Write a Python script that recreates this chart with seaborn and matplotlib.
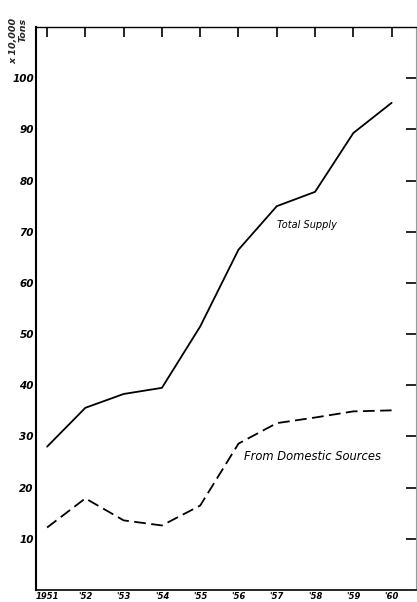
import pandas as pd
import numpy as np
import matplotlib
matplotlib.use("Agg")
import matplotlib.pyplot as plt
import seaborn as sns

# dados (x 10.000 toneladas)
anos = [1951, 1952, 1953, 1954, 1955, 1956, 1957, 1958, 1959, 1960]
total = [28, 35.6, 38.3, 39.5, 51.5, 66.5, 75, 77.8, 89.3, 95.2]
domestico = [12.2, 17.9, 13.6, 12.6, 16.5, 28.6, 32.6, 33.7, 34.9, 35.1]
rotulos_x = ["1951", "'52", "'53", "'54", "'55", "'56", "'57", "'58", "'59", "'60"]
rotulos_y = [10, 20, 30, 40, 50, 60, 70, 80, 90, 100]

df = pd.DataFrame({
    "ano": anos * 2,
    "valor": total + domestico,
    "serie": ["Total Supply"] * len(anos) + ["From Domestic Sources"] * len(anos),
})

sns.set_style("white")
plt.rcParams["font.family"] = ["DejaVu Sans"]

fig = plt.figure(figsize=(4.17, 6.02), dpi=100)
ax = fig.add_axes([0.0863, 0.02, 0.9125, 0.935])

sns.lineplot(data=df, x="ano", y="valor", style="serie", color="black",
             dashes={"Total Supply": "", "From Domestic Sources": (6.5, 3)},
             linewidth=1.3, legend=False, ax=ax)

ax.set_xlim(1950.71, 1960.65)
ax.set_ylim(0, 110)
ax.set_xticks(anos)
ax.set_xticklabels(rotulos_x, fontsize=6, fontstyle="italic", fontweight="bold")
ax.set_yticks(rotulos_y)
ax.set_yticklabels([str(v) for v in rotulos_y], fontsize=7.5, fontstyle="italic", fontweight="bold")
ax.tick_params(axis="both", direction="in", length=7.5, width=1.2, color="black",
               top=True, right=True, labelcolor="black")
ax.tick_params(axis="x", pad=1.5)
ax.tick_params(axis="y", pad=1.5)
ax.set_xlabel("")
ax.set_ylabel("")

for lado in ["left", "bottom", "top"]:
    ax.spines[lado].set_color("black")
ax.spines["left"].set_linewidth(1.5)
ax.spines["bottom"].set_linewidth(1.2)
ax.spines["top"].set_linewidth(1.0)
ax.spines["right"].set_color("#999999")
ax.spines["right"].set_linewidth(0.8)

ax.text(1957.0, 71.4, "Total Supply", fontsize=7, fontstyle="italic",
        color="black", va="center")
ax.text(1956.15, 26.1, "From Domestic Sources", fontsize=8.3, fontstyle="italic",
        color="black", va="center")

fig.text(0.045, 0.97, "x 10,000\nTons", rotation=90, fontsize=6.8,
         fontstyle="italic", fontweight="bold", ha="center", va="top",
         multialignment="right", linespacing=1.0)

fig.savefig("out.png", dpi=100)
